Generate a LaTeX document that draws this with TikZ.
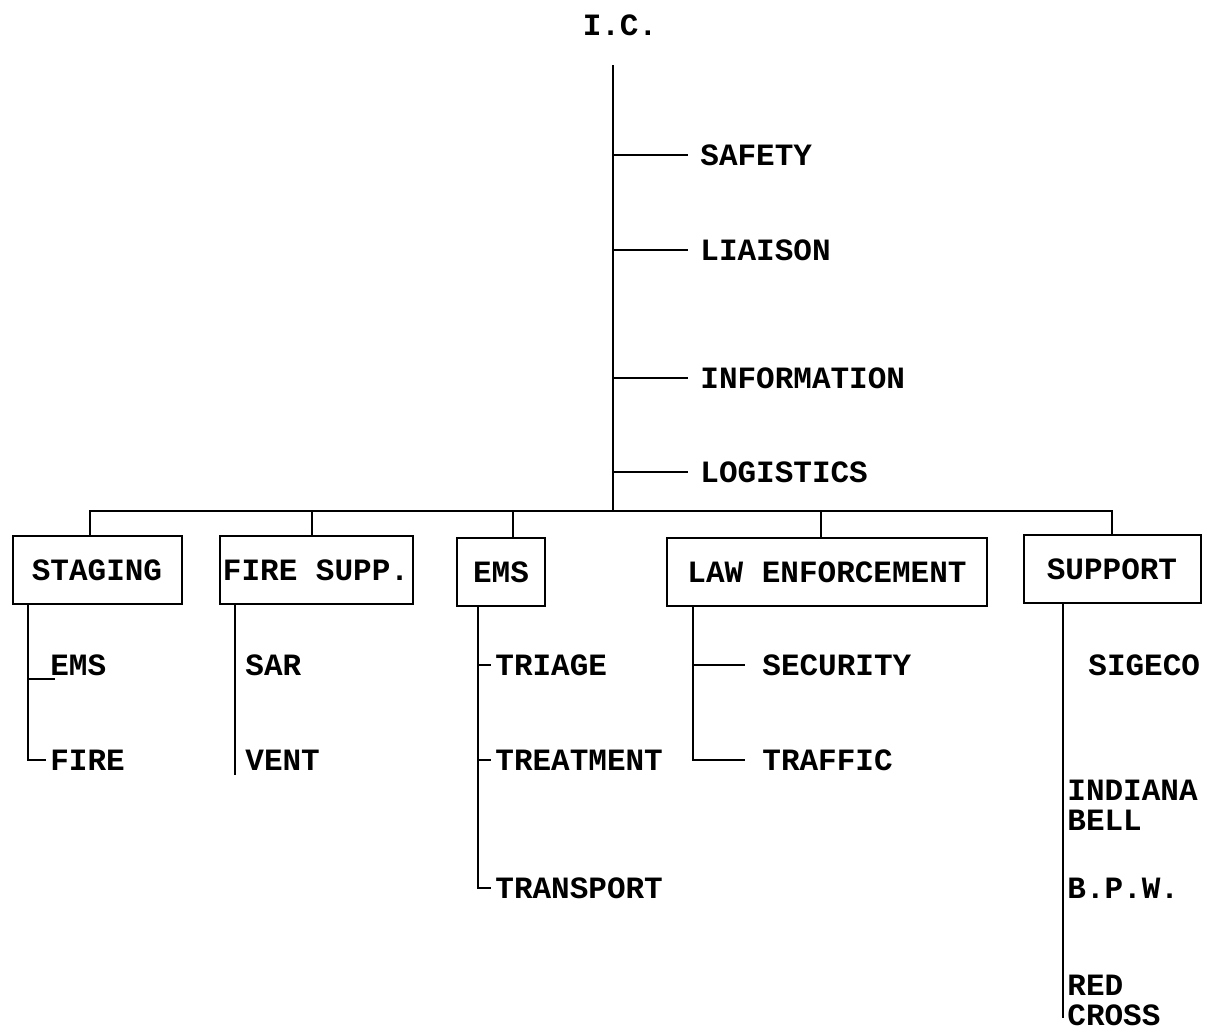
\documentclass[tikz,border=0pt]{standalone}
\usepackage{fontspec}
\setmainfont{Liberation Mono}
\usetikzlibrary{positioning}

\begin{document}
\begin{tikzpicture}[
  x=0.5pt,y=-0.5pt,
  lbl/.style={font=\bfseries\fontsize{15.5}{15}\selectfont,inner sep=2pt},
  unit/.style={lbl,draw,line width=1pt,minimum height=34pt,inner xsep=8pt},
  sub/.style={lbl,anchor=west,align=left},
  ln/.style={line width=0.9pt}
]
  \useasboundingbox (0,0) rectangle (1206,1030);

  % command and staff
  \node[lbl] (ic) at (620,25) {I.C.};
  \coordinate (top) at (613,65);
  \coordinate (hub) at (613,511);
  \node[sub] (safety) at (696,155) {SAFETY};
  \node[sub] (liaison) at (696,250) {LIAISON};
  \node[sub] (information) at (696,378) {INFORMATION};
  \node[sub] (logistics) at (696,472) {LOGISTICS};
  \draw[ln] (top) -- (hub);
  \foreach \n in {safety,liaison,information,logistics}
    \draw[ln] (top |- \n.west) -- ([xshift=-4pt]\n.west);

  % sections
  \node[unit,minimum width=84.5pt] (staging) at (97,570) {STAGING};
  \node[unit,minimum width=96.5pt,inner xsep=1pt] (firesupp) at (316,570) {FIRE SUPP.};
  \node[unit,minimum width=38.5pt] (ems) at (501,572) {EMS};
  \node[unit,minimum width=160pt] (law) at (827,572) {LAW ENFORCEMENT};
  \node[unit,minimum width=88.5pt] (support) at (1112,569) {SUPPORT};
  \coordinate (stgdrop) at ([xshift=-3.5pt]staging.north);
  \coordinate (fsdrop) at ([xshift=-2pt]firesupp.north);
  \coordinate (emsdrop) at ([xshift=6pt]ems.north);
  \coordinate (lawdrop) at ([xshift=-3pt]law.north);
  \draw[ln] (stgdrop) |- (hub) -| (support.north);
  \foreach \n in {fsdrop,emsdrop,lawdrop}
    \draw[ln] (\n) -- (\n |- hub);

  % staging
  \node[sub] (stgems) at (46,665) {EMS};
  \node[sub] (stgfire) at (46,760) {FIRE};
  \coordinate (stgline) at ([xshift=-34.5pt]staging.south);
  \draw[ln] (stgline) |- (stgfire.west);
  \draw[ln] ([yshift=-7pt]stgems.west) ++(-18,0) -- ++(27,0);

  % fire suppression
  \node[sub] (sar) at (241,665) {SAR};
  \node[sub] (vent) at (241,760) {VENT};
  \coordinate (fsline) at ([xshift=-40.5pt]firesupp.south);
  \draw[ln] (fsline) -- (fsline |- vent.south);

  % ems
  \node[sub] (triage) at (491,665) {TRIAGE};
  \node[sub] (treatment) at (491,760) {TREATMENT};
  \node[sub] (transport) at (491,888) {TRANSPORT};
  \coordinate (emsline) at ([xshift=-11.5pt]ems.south);
  \draw[ln] (emsline) |- (transport.west);
  \draw[ln] (emsline |- triage.west) -- (triage.west);
  \draw[ln] (emsline |- treatment.west) -- (treatment.west);

  % law enforcement
  \node[sub] (security) at (758,665) {SECURITY};
  \node[sub] (traffic) at (758,760) {TRAFFIC};
  \coordinate (lawline) at ([xshift=-67pt]law.south);
  \draw[ln] (lawline) |- ([xshift=-6.5pt]traffic.west);
  \draw[ln] (lawline |- security.west) -- ([xshift=-6.5pt]security.west);

  % support
  \node[sub] (sigeco) at (1084,665) {SIGECO};
  \node[sub] (inbell) at (1063,805) {INDIANA\\BELL};
  \node[sub] (bpw) at (1063,888) {B.P.W.};
  \node[sub] (redcross) at (1063,1000) {RED\\CROSS};
  \coordinate (supline) at ([xshift=-24.5pt]support.south);
  \draw[ln] (supline) -- ++(0,414);
\end{tikzpicture}
\end{document}
